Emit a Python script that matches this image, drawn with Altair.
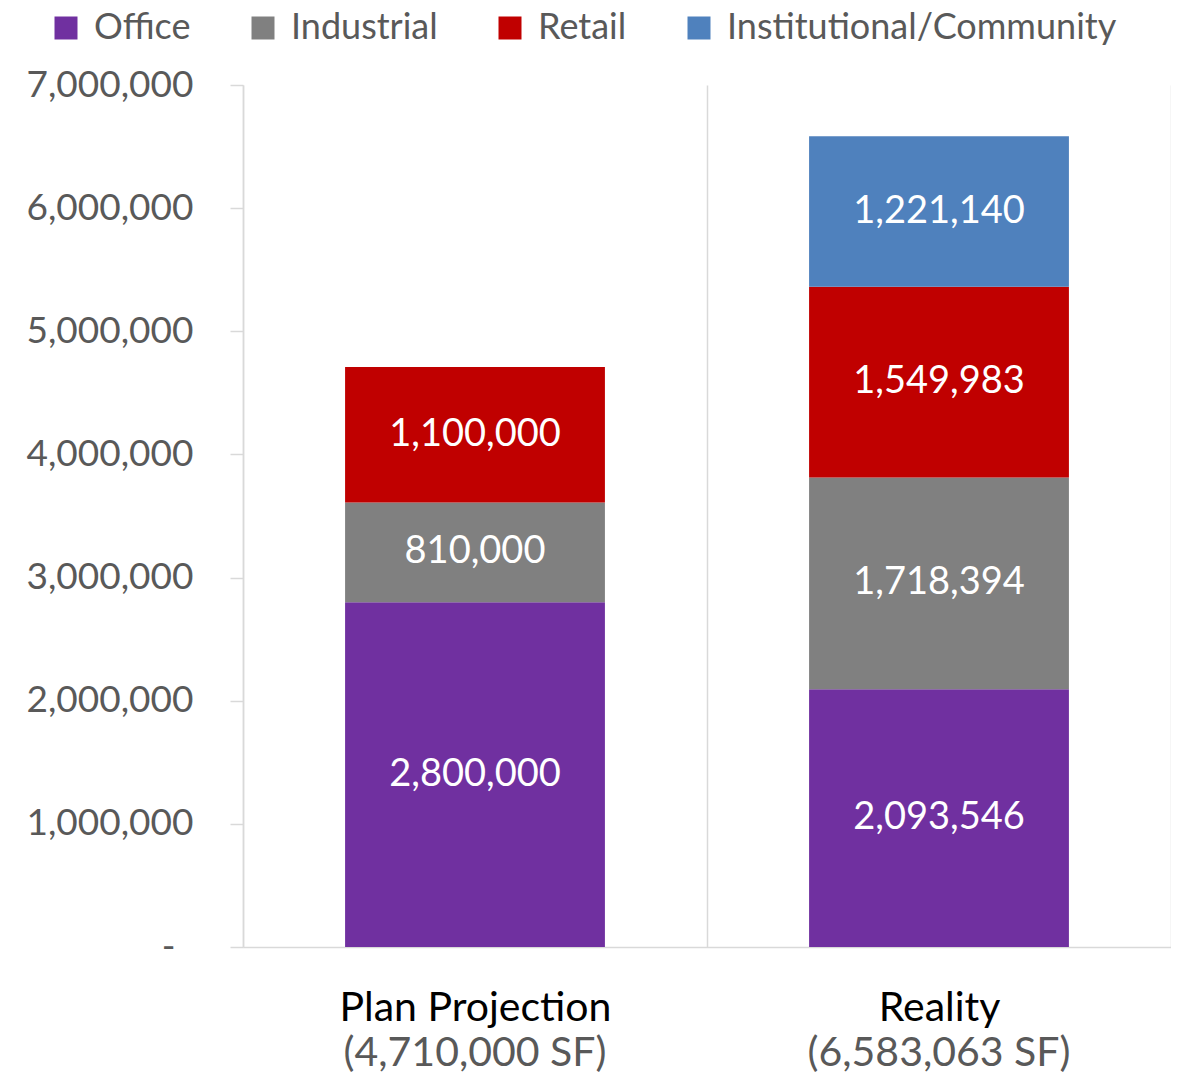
import altair as alt
import pandas as pd

categories = ["Plan Projection", "Reality"]
types = ["Office", "Industrial", "Retail", "Institutional/Community"]
colors = ["#7030A0", "#808080", "#C00000", "#4F81BD"]
plan_values = [2800000, 810000, 1100000]
reality_values = [2093546, 1718394, 1549983, 1221140]
y_ticks = [0, 1000000, 2000000, 3000000, 4000000, 5000000, 6000000, 7000000]

rows = []
for cat, vals in zip(categories, [plan_values, reality_values]):
    for i, v in enumerate(vals):
        rows.append({"cat": cat, "type": types[i], "value": v, "order": i})
df = pd.DataFrame(rows)

FONT = "Lato"
GRAY = "#595959"
LINE = "#d9d9d9"

base = alt.Chart(df)

x_enc = alt.X(
    "cat:N",
    sort=categories,
    title=None,
    scale=alt.Scale(paddingInner=0, paddingOuter=0),
    axis=alt.Axis(
        labelFont=FONT,
        labelFontSize=41,
        labelColor="#000000",
        labelPadding=41,
        labelAngle=0,
        labelLimit=0,
        ticks=False,
        tickSize=0,
        grid=True,
        gridColor=LINE,
        gridWidth=1.5,
        tickBand="extent",
        domainColor=LINE,
        domainWidth=1.5,
    ),
)

y_enc = alt.Y(
    "value:Q",
    stack="zero",
    title=None,
    scale=alt.Scale(domain=[0, 7000000], nice=False),
    axis=alt.Axis(
        values=y_ticks,
        labelExpr="datum.value === 0 ? '-' : format(datum.value, ',')",
        labelFont=FONT,
        labelFontSize=37,
        labelColor=GRAY,
        labelPadding={"condition": {"test": "datum.value === 0", "value": 55}, "value": 37},
        tickSize=13,
        tickColor=LINE,
        tickWidth=1.5,
        domainColor=LINE,
        domainWidth=1.5,
        grid=False,
    ),
)

bars = base.mark_bar(width=alt.RelativeBandSize(0.56)).encode(
    x=x_enc,
    y=y_enc,
    color=alt.Color(
        "type:N",
        scale=alt.Scale(domain=types, range=colors),
        legend=alt.Legend(
            title=None,
            orient="none",
            legendX=-195,
            legendY=-75,
            direction="horizontal",
            labelFont=FONT,
            labelFontSize=36,
            labelColor=GRAY,
            labelLimit=0,
            symbolType="square",
            symbolSize=529,
            symbolStrokeWidth=0,
            symbolOpacity=1,
            labelOffset=10,
            columnPadding=54,
        ),
    ),
    order=alt.Order("order:Q", sort="ascending"),
)

labels = (
    base.transform_stack(
        stack="value",
        groupby=["cat"],
        sort=[alt.SortField("order", order="ascending")],
        as_=["y0", "y1"],
    )
    .transform_calculate(mid="(datum.y0 + datum.y1) / 2")
    .mark_text(font=FONT, fontSize=38, color="#ffffff", baseline="middle", align="center")
    .encode(
        x=alt.X("cat:N", sort=categories, title=None),
        y=alt.Y("mid:Q", title=None),
        text=alt.Text("value:Q", format=","),
    )
)

totals = (
    base.transform_aggregate(total="sum(value)", groupby=["cat"])
    .transform_calculate(lbl='"(" + format(datum.total, ",") + " SF)"')
    .mark_text(font=FONT, fontSize=41, color=GRAY, baseline="alphabetic", align="center")
    .encode(
        x=alt.X("cat:N", sort=categories, title=None),
        y=alt.value(981),
        text="lbl:N",
    )
)

chart = (
    alt.layer(bars, labels, totals)
    .properties(
        width=928,
        height=862,
        autosize=alt.AutoSizeParams(type="none"),
        padding={"left": 235, "top": 77, "right": 0, "bottom": 128},
    )
    .configure_view(stroke=None)
)

chart.save("out.html", embed_options={"renderer": "svg", "actions": False})
